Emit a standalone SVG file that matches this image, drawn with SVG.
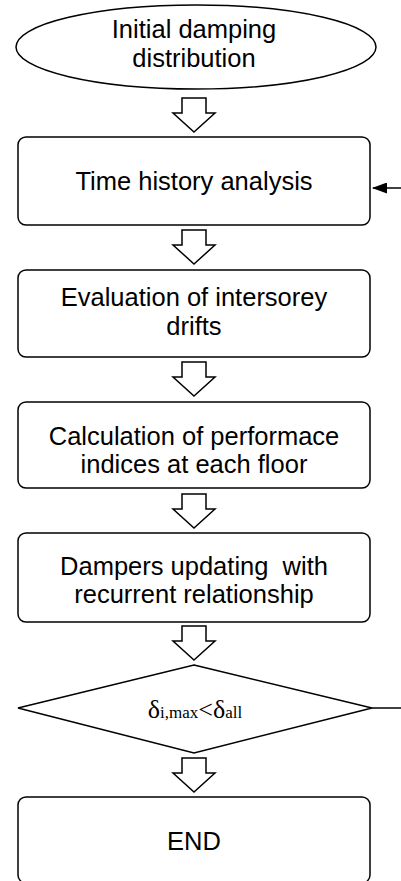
<svg xmlns="http://www.w3.org/2000/svg" width="401" height="881" viewBox="0 0 401 881">
  <defs>
    <style>
      .shape { fill: #ffffff; stroke: #000000; stroke-width: 1.5; }
      .label { font-family: "Liberation Sans", Arial, sans-serif; font-size: 25.5px; fill: #000000; text-anchor: middle; white-space: pre; }
      .math { font-family: "Liberation Serif", "Times New Roman", serif; fill: #000000; text-anchor: middle; }
      .flow { fill: #ffffff; stroke: #000000; stroke-width: 1.5; stroke-linejoin: miter; }
      .link { fill: none; stroke: #000000; stroke-width: 1.5; }
    </style>
    <!-- hollow block arrow, 34 px tall, tip at (0,34) -->
    <path id="blockArrow" class="flow" d="M -12,0 H 12 V 15 H 21 L 0,34 L -21,15 H -12 Z"/>
    <marker id="head" markerWidth="15" markerHeight="11" refX="14" refY="5.5" orient="auto" markerUnits="userSpaceOnUse">
      <path d="M 0,0 L 15,5.5 L 0,11 Z" fill="#000000"/>
    </marker>
  </defs>

  <rect width="401" height="881" fill="#ffffff"/>

  <g id="start">
    <ellipse class="shape" cx="196" cy="47" rx="180" ry="42"/>
    <text class="label" x="194" y="38">Initial damping</text>
    <text class="label" x="194" y="67">distribution</text>
  </g>

  <g id="time-history">
    <rect class="shape" x="18" y="137" width="352" height="88" rx="8"/>
    <text class="label" x="194" y="190">Time history analysis</text>
  </g>

  <g id="drifts">
    <rect class="shape" x="18" y="270" width="352" height="87" rx="8"/>
    <text class="label" x="194" y="306">Evaluation of intersorey</text>
    <text class="label" x="194" y="335">drifts</text>
  </g>

  <g id="indices">
    <rect class="shape" x="18" y="402" width="352" height="86" rx="8"/>
    <text class="label" x="194" y="445">Calculation of performace</text>
    <text class="label" x="194" y="473">indices at each floor</text>
  </g>

  <g id="update">
    <rect class="shape" x="18" y="533" width="352" height="89" rx="8"/>
    <text class="label" x="194" y="575">Dampers updating  with</text>
    <text class="label" x="194" y="603">recurrent relationship</text>
  </g>

  <g id="check">
    <polygon class="shape" points="194,665 372,708 194,753 18,708"/>
    <text class="math" x="195" y="718"><tspan font-size="26">δ</tspan><tspan font-size="17">i,max</tspan><tspan font-size="26">&lt;δ</tspan><tspan font-size="17">all</tspan></text>
  </g>

  <g id="end">
    <rect class="shape" x="18" y="797" width="352" height="86" rx="8"/>
    <text class="label" x="194" y="850">END</text>
  </g>

  <g id="connectors">
    <use href="#blockArrow" x="194" y="98"/>
    <use href="#blockArrow" x="194" y="230"/>
    <use href="#blockArrow" x="194" y="362"/>
    <use href="#blockArrow" x="194" y="494"/>
    <use href="#blockArrow" x="194" y="626"/>
    <use href="#blockArrow" x="194" y="758"/>
    <!-- loop back from the check into the analysis step -->
    <line class="link" x1="402" y1="188" x2="373" y2="188" marker-end="url(#head)"/>
    <line class="link" x1="372" y1="708" x2="402" y2="708"/>
  </g>
</svg>
